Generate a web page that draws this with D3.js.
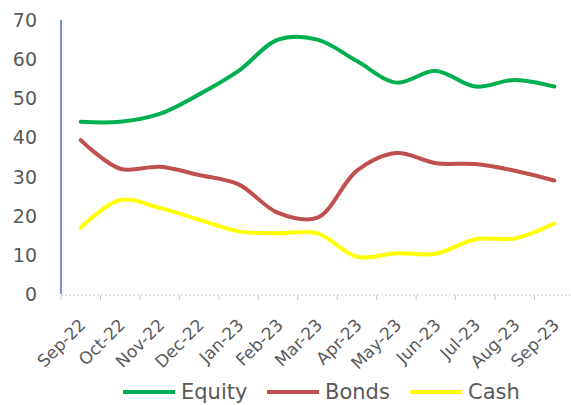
<!DOCTYPE html>
<meta charset="utf-8">
<script src="https://d3js.org/d3.v7.min.js"></script>
<style>
  body { margin: 0; background: #fff; }
  text { font-family: "DejaVu Sans", sans-serif; fill: #595959; }
</style>
<div id="chart"></div>
<script>

// data
var months = ["Sep-22", "Oct-22", "Nov-22", "Dec-22", "Jan-23", "Feb-23", "Mar-23",
              "Apr-23", "May-23", "Jun-23", "Jul-23", "Aug-23", "Sep-23"];
var equity = [44, 44, 46, 51, 57, 65, 65, 59.5, 54, 57, 53, 54.7, 53];
var bonds  = [39.3, 32, 32.5, 30.4, 28, 20.7, 19.5, 31.5, 36, 33.4, 33.2, 31.5, 29];
var cash   = [17, 24, 22, 19, 16, 15.5, 15.5, 9.5, 10.4, 10.3, 14, 14.2, 18];
var yTicks = [0, 10, 20, 30, 40, 50, 60, 70];

var series = [
  {name: "Equity", values: equity, color: "#00B050"},
  {name: "Bonds",  values: bonds,  color: "#C0504D"},
  {name: "Cash",   values: cash,   color: "#FFFF00"}
];

var width = 571, height = 405;

var svg = d3.select("#chart")
  .append("svg")
    .attr("width", width)
    .attr("height", height);

// scales
var x = d3.scalePoint()
  .domain(months)
  .range([61, 574])
  .padding(0.5);

var y = d3.scaleLinear()
  .domain([0, 70])
  .range([294, 20]);

// y tick labels
svg.selectAll(".ylab")
  .data(yTicks)
  .enter().append("text")
    .attr("x", 37)
    .attr("y", function(d) { return y(d); })
    .attr("text-anchor", "end")
    .attr("dominant-baseline", "central")
    .style("font-size", "19px")
    .text(function(d) { return d; });

// blue y axis line
svg.append("line")
  .attr("x1", 61).attr("x2", 61)
  .attr("y1", y(70)).attr("y2", y(0))
  .attr("stroke", "#4472C4")
  .attr("stroke-width", 1.5);

// x axis: dotted baseline plus boundary ticks
var step = x.step();
svg.append("line")
  .attr("x1", 61).attr("x2", 571)
  .attr("y1", y(0) + 1).attr("y2", y(0) + 1)
  .attr("stroke", "#c8c8c8")
  .attr("stroke-dasharray", "2,2");

svg.selectAll(".xtick")
  .data(months)
  .enter().append("line")
    .attr("x1", function(d) { return x(d) - step / 2; })
    .attr("x2", function(d) { return x(d) - step / 2; })
    .attr("y1", y(0) + 1)
    .attr("y2", y(0) + 6)
    .attr("stroke", "#c8c8c8");

svg.selectAll(".xlab")
  .data(months)
  .enter().append("text")
    .attr("transform", function(d) {
      return "translate(" + (x(d) + 6) + "," + (y(0) + 32) + ") rotate(-45)";
    })
    .attr("text-anchor", "end")
    .style("font-size", "17px")
    .text(function(d) { return d; });

// lines
var line = d3.line()
  .x(function(d, i) { return x(months[i]); })
  .y(function(d) { return y(d); })
  .curve(d3.curveCatmullRom.alpha(0.5));

svg.selectAll(".series")
  .data(series)
  .enter().append("path")
    .attr("d", function(d) { return line(d.values); })
    .attr("fill", "none")
    .attr("stroke", function(d) { return d.color; })
    .attr("stroke-width", 4)
    .attr("stroke-linecap", "round");

// legend
var legendX = [123, 267, 410];
var leg = svg.selectAll(".leg")
  .data(series)
  .enter().append("g")
    .attr("transform", function(d, i) { return "translate(" + legendX[i] + ",392)"; });

leg.append("line")
  .attr("x1", 0).attr("x2", 52)
  .attr("stroke", function(d) { return d.color; })
  .attr("stroke-width", 4);

leg.append("text")
  .attr("x", 58)
  .attr("dominant-baseline", "central")
  .style("font-size", "21px")
  .text(function(d) { return d.name; });

</script>
